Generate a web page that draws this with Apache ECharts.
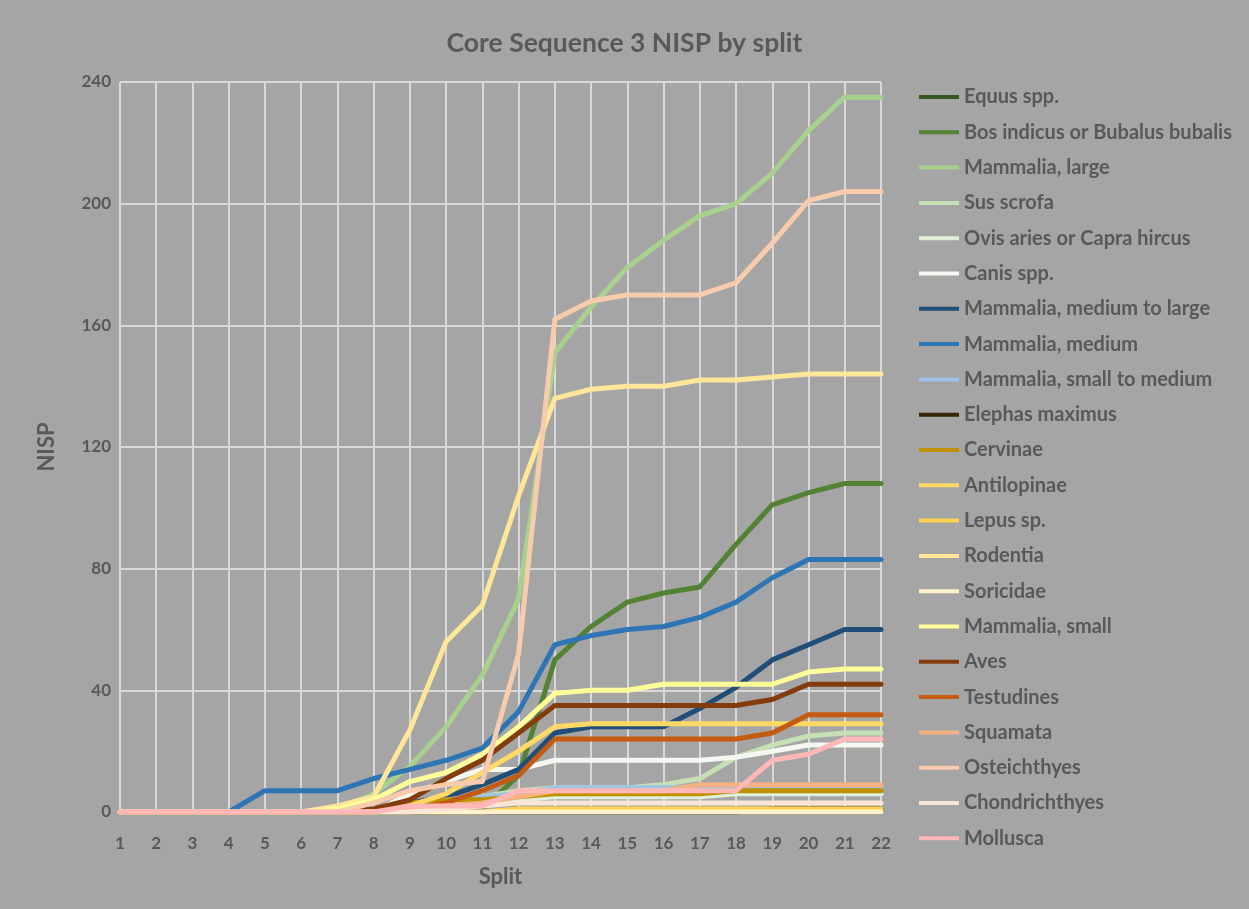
<!DOCTYPE html>
<html>
<head>
<meta charset="utf-8">
<title>Core Sequence 3 NISP by split</title>
<script src="https://cdn.jsdelivr.net/npm/echarts@6/dist/echarts.min.js"></script>
<style>
  html, body { margin: 0; padding: 0; background: #a5a5a5; }
  .diagram { width: 1249px; height: 909px; }
</style>
</head>
<body>
<div class="diagram"></div>
<script>
var splits = ['1','2','3','4','5','6','7','8','9','10','11','12','13','14','15','16','17','18','19','20','21','22'];

var equus        = [0,0,0,0,0,0,0,0,0,0,0,0,0,0,0,0,0,0,0,0,0,0];
var bos          = [0,0,0,0,0,0,0,0,0,0,1,12,50,61,69,72,74,88,101,105,108,108];
var mamLarge     = [0,0,0,0,0,0,1,6,15,28,45,70,151,166,179,188,196,200,210,224,235,235];
var sus          = [0,0,0,0,0,0,0,0,1,3,5,7,8,8,8,9,11,18,22,25,26,26];
var ovis         = [0,0,0,0,0,0,0,0,1,2,3,4,5,5,5,5,5,6,6,6,6,6];
var canis        = [0,0,0,0,0,0,0,0,6,10,14,14,17,17,17,17,17,18,20,22,22,22];
var mamMedLarge  = [0,0,0,0,0,0,0,0,3,5,9,14,26,28,28,28,34,41,50,55,60,60];
var mamMedium    = [0,0,0,0,7,7,7,11,14,17,21,33,55,58,60,61,64,69,77,83,83,83];
var mamSmallMed  = [0,0,0,0,0,0,0,0,2,4,5,6,8,8,8,8,8,8,8,8,8,8];
var elephas      = [0,0,0,0,0,0,0,0,0,0,0,0,0,0,0,0,0,0,1,1,1,1];
var cervinae     = [0,0,0,0,0,0,0,0,3,4,4,5,6,6,6,6,6,7,7,7,7,7];
var antilopinae  = [0,0,0,0,0,0,0,0,2,6,13,20,28,29,29,29,29,29,29,29,29,29];
var lepus        = [0,0,0,0,0,0,0,0,0,0,0,1,1,1,1,1,1,1,1,1,1,1];
var rodentia     = [0,0,0,0,0,0,2,5,27,56,68,104,136,139,140,140,142,142,143,144,144,144];
var soricidae    = [0,0,0,0,0,0,0,0,0,0,0,0,0,0,0,0,0,0,0,0,0,0];
var mamSmall     = [0,0,0,0,0,0,1,4,10,13,19,28,39,40,40,42,42,42,42,46,47,47];
var aves         = [0,0,0,0,0,0,0,1,4,11,17,26,35,35,35,35,35,35,37,42,42,42];
var testudines   = [0,0,0,0,0,0,0,0,1,3,7,12,24,24,24,24,24,24,26,32,32,32];
var squamata     = [0,0,0,0,0,0,0,0,1,2,3,5,7,7,7,7,9,9,9,9,9,9];
var osteichthyes = [0,0,0,0,0,0,0,3,7,9,10,52,162,168,170,170,170,174,187,201,204,204];
var chondrich    = [0,0,0,0,0,0,0,0,0,1,2,3,3,3,3,3,3,3,3,3,3,3];
var mollusca     = [0,0,0,0,0,0,0,0,2,2,2,7,7,7,7,7,7,7,17,19,24,24];

var taxa = [
  ['Equus spp.', equus, '#375623'],
  ['Bos indicus or Bubalus bubalis', bos, '#548235'],
  ['Mammalia, large', mamLarge, '#a9d18e'],
  ['Sus scrofa', sus, '#c5e0b4'],
  ['Ovis aries or Capra hircus', ovis, '#e2f0d9'],
  ['Canis spp.', canis, '#f4f8f1'],
  ['Mammalia, medium to large', mamMedLarge, '#1f4e79'],
  ['Mammalia, medium', mamMedium, '#2e75b6'],
  ['Mammalia, small to medium', mamSmallMed, '#9dc3e6'],
  ['Elephas maximus', elephas, '#332600'],
  ['Cervinae', cervinae, '#bf9000'],
  ['Antilopinae', antilopinae, '#ffd966'],
  ['Lepus sp.', lepus, '#ffd34f'],
  ['Rodentia', rodentia, '#ffe699'],
  ['Soricidae', soricidae, '#fff2cc'],
  ['Mammalia, small', mamSmall, '#ffff99'],
  ['Aves', aves, '#843c0c'],
  ['Testudines', testudines, '#c55a11'],
  ['Squamata', squamata, '#f4b183'],
  ['Osteichthyes', osteichthyes, '#f8cbad'],
  ['Chondrichthyes', chondrich, '#fbe5d6'],
  ['Mollusca', mollusca, '#ffb7b7']
];

var txtColor = '#595959',
    font     = 'Lato';

var chart = echarts.init(document.querySelector('.diagram'));

function buildSeries() {
  var list = [];
  for(var i = 0; i < taxa.length; i++) {
    list.push({
      name: taxa[i][0],
      type: 'line',
      data: taxa[i][1],
      showSymbol: false,
      symbol: 'none',
      color: taxa[i][2],
      lineStyle: { width: 5, color: taxa[i][2], cap: 'round', join: 'round' },
      emphasis: { disabled: true },
      animation: false
    });
  }
  return list;
}

var option = {
  backgroundColor: '#a5a5a5',
  title: {
    text: 'Core Sequence 3 NISP by split',
    left: 'center',
    top: 25,
    textStyle: { color: txtColor, fontFamily: font, fontSize: 26.5, fontWeight: 'bold' }
  },
  legend: {
    orient: 'vertical',
    left: 914,
    top: 81,
    icon: 'rect',
    itemWidth: 40,
    itemHeight: 4,
    itemGap: 13.3,
    textStyle: { color: txtColor, fontFamily: font, fontSize: 20, fontWeight: 'bold', lineHeight: 22 },
    data: taxa.map(function(t) { return t[0]; })
  },
  grid: { left: 120, right: 368, top: 82, bottom: 97 },
  xAxis: {
    type: 'category',
    data: splits,
    boundaryGap: false,
    name: 'Split',
    nameLocation: 'middle',
    nameGap: 54,
    nameTextStyle: { color: txtColor, fontFamily: font, fontSize: 22, fontWeight: 'bold' },
    axisLine: { lineStyle: { color: '#d9d9d9', width: 2 } },
    axisTick: { show: false },
    axisLabel: { color: txtColor, fontFamily: font, fontSize: 17, fontWeight: 'bold', margin: 23 },
    splitLine: { show: true, lineStyle: { color: '#d9d9d9', width: 2 } }
  },
  yAxis: {
    type: 'value',
    min: 0,
    max: 240,
    interval: 40,
    name: 'NISP',
    nameLocation: 'middle',
    nameGap: 62,
    nameTextStyle: { color: txtColor, fontFamily: font, fontSize: 22, fontWeight: 'bold' },
    axisLine: { show: false },
    axisTick: { show: false },
    axisLabel: { color: txtColor, fontFamily: font, fontSize: 17, fontWeight: 'bold', margin: 9 },
    splitLine: { show: true, lineStyle: { color: '#d9d9d9', width: 2 } }
  },
  series: buildSeries()
};

chart.setOption(option, true);
</script>
</body>
</html>
